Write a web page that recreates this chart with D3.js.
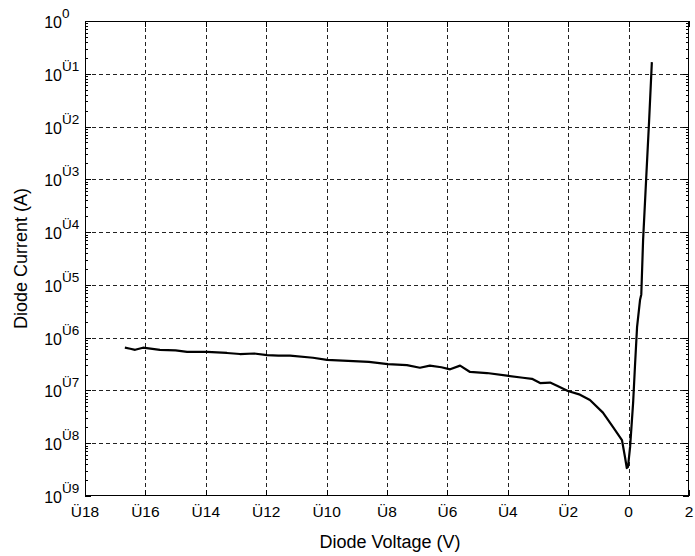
<!DOCTYPE html>
<html><head><meta charset="utf-8">
<script src="https://cdn.jsdelivr.net/npm/d3@7"></script>
<style>body{margin:0;background:#fff}svg{display:block}text{font-family:"Liberation Sans",Arial,sans-serif;fill:#000}</style>
</head><body><div id="chart"></div>
<script>
const voltage = [-16.68,-16.5,-16.34,-16.08,-15.52,-15.0,-14.62,-13.96,-13.30,-12.87,-12.4,-11.97,-11.6,-11.21,-10.45,-9.99,-9.29,-8.6,-7.97,-7.34,-6.91,-6.58,-6.2,-5.91,-5.58,-5.25,-4.69,-4.03,-3.50,-3.2,-2.93,-2.6,-2.37,-2.01,-1.61,-1.28,-0.85,-0.52,-0.22,-0.12,-0.06,-0.02,0.05,0.15,0.21,0.28,0.38,0.42,0.48,0.58,0.68,0.77];
const logCurrent = [-6.19,-6.21,-6.23,-6.19,-6.23,-6.24,-6.27,-6.27,-6.29,-6.31,-6.30,-6.33,-6.34,-6.34,-6.38,-6.42,-6.44,-6.46,-6.50,-6.52,-6.57,-6.53,-6.56,-6.60,-6.53,-6.65,-6.67,-6.72,-6.76,-6.78,-6.86,-6.85,-6.91,-7.01,-7.08,-7.18,-7.42,-7.69,-7.94,-8.26,-8.47,-8.45,-8.07,-7.23,-6.55,-5.80,-5.28,-5.18,-4.15,-3.01,-1.88,-0.78];
const xTicks = [-18,-16,-14,-12,-10,-8,-6,-4,-2,0,2];
const yExponents = [0,-1,-2,-3,-4,-5,-6,-7,-8,-9];
const xTitle = "Diode Voltage (V)";
const yTitle = "Diode Current (A)";
const fmt = v => (v < 0 ? "Ü" + Math.abs(v) : String(v));

const W = 695, H = 556;
const L = 85, R = 689, T = 21, B = 496;
const svg = d3.select("#chart").append("svg").attr("width", W).attr("height", H);
const x = d3.scaleLinear().domain([-18, 2]).range([L, R]);
const y = d3.scaleLog().domain([1e-9, 1]).range([B, T]);

// grid
const g = svg.append("g").attr("stroke", "#222").attr("stroke-width", 1).attr("stroke-dasharray", "4,3").attr("shape-rendering", "crispEdges");
xTicks.slice(1, -1).forEach(t => g.append("line").attr("x1", Math.round(x(t)) + 0.5).attr("x2", Math.round(x(t)) + 0.5).attr("y1", T).attr("y2", B));
yExponents.slice(1, -1).forEach(e => g.append("line").attr("y1", Math.round(y(Math.pow(10, e))) + 0.5).attr("y2", Math.round(y(Math.pow(10, e))) + 0.5).attr("x1", L).attr("x2", R));

// ticks
const tk = svg.append("g").attr("stroke", "#000").attr("stroke-width", 1).attr("shape-rendering", "crispEdges");
xTicks.forEach(t => {
  const px = Math.round(x(t)) + 0.5;
  tk.append("line").attr("x1", px).attr("x2", px).attr("y1", B).attr("y2", B - 6);
  tk.append("line").attr("x1", px).attr("x2", px).attr("y1", T).attr("y2", T + 6);
});
yExponents.forEach(e => {
  const py = Math.round(y(Math.pow(10, e))) + 0.5;
  tk.append("line").attr("x1", L).attr("x2", L + 6).attr("y1", py).attr("y2", py);
  tk.append("line").attr("x1", R).attr("x2", R - 6).attr("y1", py).attr("y2", py);
  if (e < 0) {
    for (let m = 2; m <= 9; m++) {
      const pm = Math.round(y(m * Math.pow(10, e))) + 0.5;
      tk.append("line").attr("x1", L).attr("x2", L + 3).attr("y1", pm).attr("y2", pm);
      tk.append("line").attr("x1", R).attr("x2", R - 3).attr("y1", pm).attr("y2", pm);
    }
  }
});

// frame
svg.append("rect").attr("x", L + 0.5).attr("y", T + 0.5).attr("width", R - L - 1).attr("height", B - T - 1)
  .attr("fill", "none").attr("stroke", "#000").attr("stroke-width", 1).attr("shape-rendering", "crispEdges");

// curve
const data = voltage.map((v, i) => [v, Math.pow(10, logCurrent[i])]);
svg.append("path").datum(data)
  .attr("d", d3.line().x(d => x(d[0])).y(d => y(d[1])))
  .attr("fill", "none").attr("stroke", "#000").attr("stroke-width", 2.2).attr("stroke-linejoin", "round");

// x tick labels
xTicks.forEach(t => svg.append("text").attr("x", x(t)).attr("y", 517).attr("text-anchor", "middle").attr("font-size", 15.5).text(fmt(t)));

// y tick labels
yExponents.forEach(e => {
  const py = y(Math.pow(10, e));
  svg.append("text").attr("x", 62).attr("y", py + 7).attr("text-anchor", "end").attr("font-size", 16).text("10");
  svg.append("text").attr("x", 62).attr("y", py - 3).attr("font-size", 13.5).text(fmt(e));
});

svg.append("text").attr("x", 390).attr("y", 548).attr("text-anchor", "middle").attr("font-size", 18).text(xTitle);
svg.append("text").attr("transform", `translate(27,${(T + B) / 2}) rotate(-90)`).attr("text-anchor", "middle").attr("font-size", 18).text(yTitle);
</script></body></html>
